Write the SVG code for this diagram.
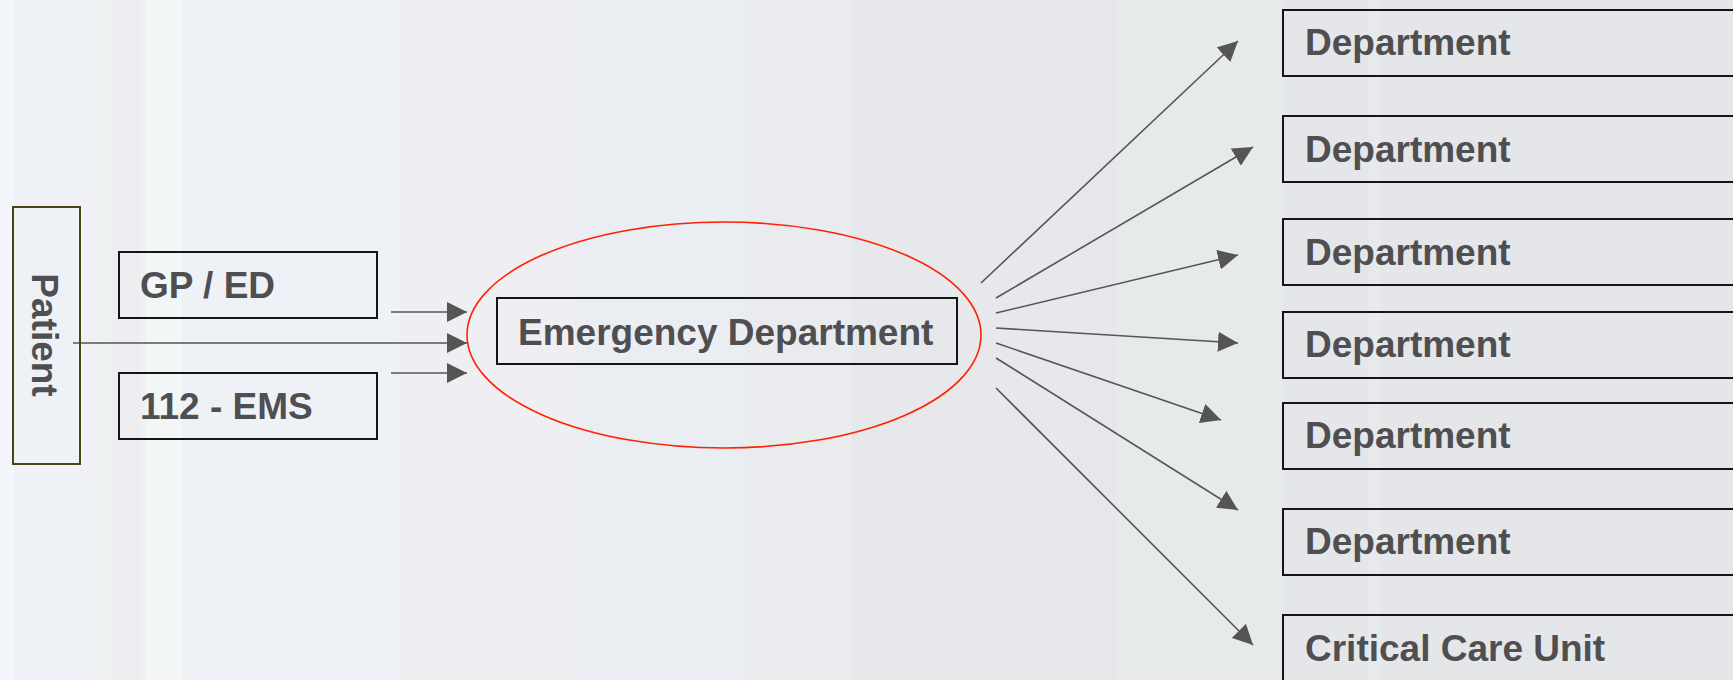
<svg xmlns="http://www.w3.org/2000/svg" width="1733" height="680" viewBox="0 0 1733 680">
<style>
.t{font-family:"Liberation Sans",Arial,sans-serif;font-weight:bold;font-size:37px;fill:#4f4f52}
.box{fill:none;stroke:#151515;stroke-width:2}
.c{stroke:#555555;stroke-width:1.6;fill:none;marker-end:url(#ah)}
</style>
<defs>
<marker id="ah" markerUnits="userSpaceOnUse" markerWidth="20" markerHeight="20" refX="20" refY="10" orient="auto" viewBox="0 0 20 20">
<path d="M0,0 L20,10 L0,20 Z" fill="#555555"/>
</marker>
</defs>
<g id="background">
<rect x="0" y="0" width="1733" height="680" fill="#eef1f6"/>
<rect x="0" y="0" width="14" height="680" fill="#f2f6fa"/>
<rect x="90" y="0" width="7" height="680" fill="#eeeef3"/>
<rect x="97" y="0" width="14" height="680" fill="#eff2f3"/>
<rect x="111" y="0" width="30" height="680" fill="#eeedf2"/>
<rect x="141" y="0" width="5" height="680" fill="#f0f1f5"/>
<rect x="146" y="0" width="36" height="680" fill="#f3f6f7"/>
<rect x="398" y="0" width="177" height="680" fill="#efeef2"/>
<rect x="575" y="0" width="171" height="680" fill="#eaedf2"/>
<rect x="746" y="0" width="105" height="680" fill="#e9ebef"/>
<rect x="851" y="0" width="227" height="680" fill="#e6e8ec"/>
<rect x="1078" y="0" width="38" height="680" fill="#e8e6ea"/>
<rect x="1116" y="0" width="167" height="680" fill="#e7eaeb"/>
<rect x="1283" y="0" width="450" height="680" fill="#e4e6ea"/>
<rect x="1369" y="0" width="12" height="680" fill="#e7e9eb"/>
</g>
<g id="connectors">
<line class="c" x1="73" y1="343" x2="467" y2="343"/>
<line class="c" x1="391" y1="312" x2="467" y2="312"/>
<line class="c" x1="391" y1="373" x2="467" y2="373"/>
<line class="c" x1="981" y1="283" x2="1238" y2="41"/>
<line class="c" x1="996" y1="298" x2="1253" y2="147"/>
<line class="c" x1="996" y1="313" x2="1238" y2="255"/>
<line class="c" x1="996" y1="328" x2="1238" y2="343"/>
<line class="c" x1="996" y1="343" x2="1221" y2="420"/>
<line class="c" x1="996" y1="358" x2="1238" y2="510"/>
<line class="c" x1="996" y1="388" x2="1253" y2="645"/>
</g>
<g id="patient">
<rect x="13" y="207" width="67" height="257" fill="none" stroke="#4a4612" stroke-width="2"/>
<text class="t" transform="translate(32,335) rotate(90)" text-anchor="middle">Patient</text>
</g>
<g id="gp-ed">
<rect class="box" x="119" y="252" width="258" height="66"/>
<text class="t" x="140" y="298">GP / ED</text>
</g>
<g id="ems">
<rect class="box" x="119" y="373" width="258" height="66"/>
<text class="t" x="140" y="419">112 - EMS</text>
</g>
<g id="emergency-department">
<ellipse cx="724" cy="335" rx="257" ry="113" fill="none" stroke="#ff2200" stroke-width="1.6"/>
<rect class="box" x="497" y="298" width="460" height="66"/>
<text class="t" x="518" y="345">Emergency Department</text>
</g>
<g id="dept1">
<rect class="box" x="1283" y="10" width="520" height="66"/>
<text class="t" x="1305" y="55">Department</text>
</g>
<g id="dept2">
<rect class="box" x="1283" y="116" width="520" height="66"/>
<text class="t" x="1305" y="162">Department</text>
</g>
<g id="dept3">
<rect class="box" x="1283" y="219" width="520" height="66"/>
<text class="t" x="1305" y="265">Department</text>
</g>
<g id="dept4">
<rect class="box" x="1283" y="312" width="520" height="66"/>
<text class="t" x="1305" y="357">Department</text>
</g>
<g id="dept5">
<rect class="box" x="1283" y="403" width="520" height="66"/>
<text class="t" x="1305" y="448">Department</text>
</g>
<g id="dept6">
<rect class="box" x="1283" y="509" width="520" height="66"/>
<text class="t" x="1305" y="554">Department</text>
</g>
<g id="critical-care-unit">
<rect class="box" x="1283" y="615" width="520" height="100"/>
<text class="t" x="1305" y="661">Critical Care Unit</text>
</g>
</svg>
